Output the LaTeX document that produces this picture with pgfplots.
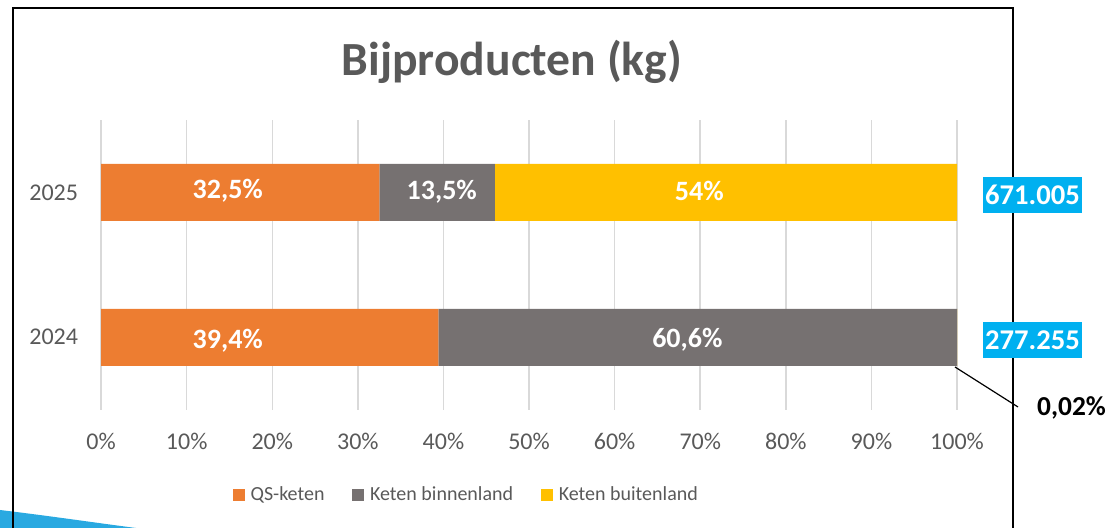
\documentclass[border=0pt]{standalone}
\usepackage{fontspec}
\setmainfont{Carlito}
\usepackage{pgfplots}
\pgfplotsset{compat=1.18}
\definecolor{qs}{HTML}{ED7D31}
\definecolor{bin}{HTML}{767171}
\definecolor{buit}{HTML}{FFC000}
\definecolor{txt}{HTML}{595959}
\definecolor{gridc}{HTML}{D9D9D9}
\definecolor{cyanbox}{HTML}{00B0F0}
\definecolor{swoosh}{HTML}{29A9E1}
\tikzset{barlbl/.style={text=white, font=\fontsize{14}{16}\selectfont\bfseries},
  valbox/.style={fill=cyanbox, text=white, font=\fontsize{14.3}{17}\selectfont\bfseries, inner xsep=1pt, inner ysep=0pt, minimum height=18pt}}
\begin{document}
\begin{tikzpicture}[x=1pt,y=1pt]
\useasboundingbox (0,0) rectangle (556,264);
\fill[swoosh] (0,0) -- (0,9) .. controls (25,6) and (45,3) .. (68,0) -- cycle;
\draw[black, line width=1pt] (6.4,0) -- (6.4,260) -- (506.5,260) -- (506.5,0);
\node[text=txt, font=\fontsize{23.8}{28}\selectfont\bfseries] at (256,233) {Bijproducten (kg)};
\begin{axis}[
  at={(50.55pt,59.15pt)}, anchor=south west,
  scale only axis, width=427.95pt, height=144.8pt,
  xbar stacked, bar width=28.5pt,
  xmin=0, xmax=100, ymin=-0.5, ymax=1.5,
  ytick={0,1}, yticklabels={2024,2025},
  xtick={0,10,20,30,40,50,60,70,80,90,100},
  xticklabels={0\%,10\%,20\%,30\%,40\%,50\%,60\%,70\%,80\%,90\%,100\%},
  axis line style={draw=none},
  major tick length=0pt,
  xmajorgrids, grid style={gridc, line width=0.75pt},
  tick label style={text=txt, font=\fontsize{12}{14}\selectfont},
  xticklabel style={yshift=-8pt},
  yticklabel style={xshift=-8pt},
  legend style={at={(axis description cs:0.428,-0.295)}, anchor=center,
    legend columns=3, draw=none, fill=none, text=txt,
    font=\fontsize{10}{12}\selectfont,
    /tikz/every odd column/.append style={column sep=1pt},
    /tikz/every even column/.append style={column sep=12pt}},
  legend image code/.code={\fill[#1] (0pt,-2.9pt) rectangle (5.8pt,2.9pt);},
]
\addplot[fill=qs, draw=none] coordinates {(39.4,0) (32.5,1)};
\addplot[fill=bin, draw=none] coordinates {(60.6,0) (13.5,1)};
\addplot[fill=buit, draw=none] coordinates {(0.02,0) (54,1)};
\legend{QS-keten, Keten binnenland, Keten buitenland}
\coordinate (a1) at (axis cs:14.8,1.012);
\coordinate (a2) at (axis cs:39.8,1.003);
\coordinate (a3) at (axis cs:69.9,1.012);
\coordinate (b1) at (axis cs:14.8,-0.026);
\coordinate (b2) at (axis cs:68.5,-0.019);
\end{axis}
\node[barlbl] at (a1) {32,5\%};
\node[barlbl] at (a2) {13,5\%};
\node[barlbl] at (a3) {54\%};
\node[barlbl] at (b1) {39,4\%};
\node[barlbl] at (b2) {60,6\%};
\draw[black, line width=0.6pt] (477.5,80.5) -- (509,60.5);
\node[font=\fontsize{13.7}{16}\selectfont\bfseries, text=black] at (535.75,60.25) {0,02\%};
\node[valbox] at (516.25,166.5) {671.005};
\node[valbox] at (516.25,93.75) {277.255};
\end{tikzpicture}
\end{document}
